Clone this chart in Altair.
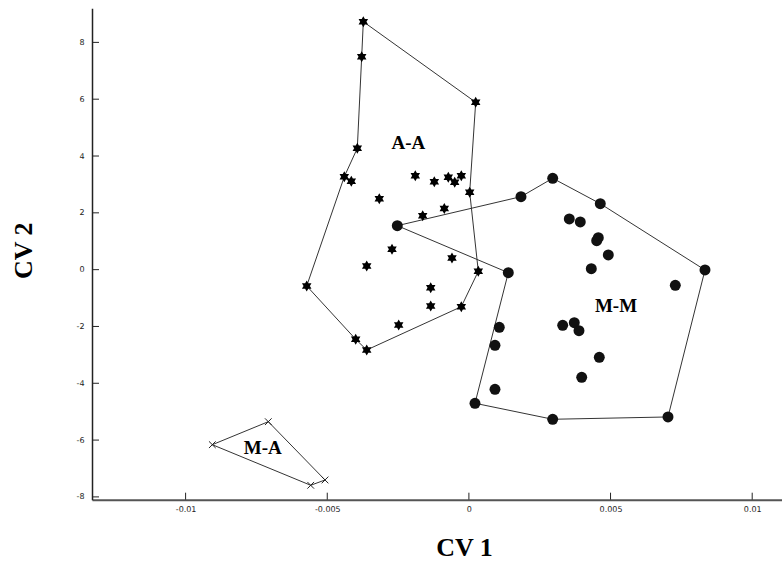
import altair as alt
import pandas as pd

# Canonical variate scores, group A-A (stars)
AA_X = [-0.003727, -0.003784, 0.000240, -0.003939, -0.004398, -0.004151, -0.001892,
        -0.001221, -0.000727, -0.000501, -0.000268, 0.000028, -0.003163, -0.000868,
        -0.001631, -0.002714, -0.000597, -0.003607, 0.000332, -0.005725, -0.001348,
        -0.001348, -0.000268, -0.002478, -0.003996, -0.003607]
AA_Y = [8.729, 7.497, 5.892, 4.273, 3.273, 3.111, 3.308, 3.097, 3.252, 3.076, 3.308,
        2.724, 2.498, 2.153, 1.900, 0.717, 0.411, 0.129, -0.057, -0.575, -0.635,
        -1.279, -1.304, -1.948, -2.451, -2.828]
AA_HULL = [0, 2, 11, 18, 22, 25, 24, 19, 4, 3, 1]

# Group M-M (filled circles)
MM_X = [-0.002527, 0.001839, 0.002958, 0.004638, 0.003544, 0.003932, 0.004568,
        0.004511, 0.004921, 0.004321, 0.008334, 0.001391, 0.007286, 0.001073,
        0.003311, 0.003720, 0.003886, 0.000921, 0.004603, 0.003982, 0.000921,
        0.000215, 0.002958, 0.007028]
MM_Y = [1.548, 2.569, 3.216, 2.322, 1.784, 1.678, 1.125, 1.020, 0.516, 0.034, -0.012,
        -0.107, -0.550, -2.029, -1.958, -1.867, -2.148, -2.662, -3.085, -3.789,
        -4.211, -4.704, -5.267, -5.186]
MM_HULL = [0, 1, 2, 3, 10, 23, 22, 21, 11]

# Group M-A (crosses)
MA_X = [-0.009057, -0.007081, -0.005079, -0.005584]
MA_Y = [-6.162, -5.352, -7.404, -7.591]
MA_HULL = [0, 1, 2, 3]

# Group names and where they are written
LABELS = ["A-A", "M-M", "M-A"]
LABEL_X = [-0.002139, 0.005192, -0.007279]
LABEL_Y = [4.449, -1.279, -6.267]

X_TICKS = [-0.01, -0.005, 0, 0.005, 0.01]
Y_TICKS = [-8, -6, -4, -2, 0, 2, 4, 6, 8]

W, H = 690, 491.4
X_DOMAIN = [-0.013304, 0.011052]
Y_DOMAIN = [-8.098, 9.2]

STAR = "M0,-1L0.866,0.5L-0.866,0.5Z M0,1L-0.866,-0.5L0.866,-0.5Z"
XMARK = "M-1,-1L1,1M-1,1L1,-1"


def hull_rows(name, xs, ys, order):
    idx = order + [order[0]]
    return [{"x": xs[i], "y": ys[i], "group": name, "ord": k} for k, i in enumerate(idx)]


hull = pd.DataFrame(hull_rows("A-A", AA_X, AA_Y, AA_HULL)
                    + hull_rows("M-M", MM_X, MM_Y, MM_HULL)
                    + hull_rows("M-A", MA_X, MA_Y, MA_HULL))
aa = pd.DataFrame({"x": AA_X, "y": AA_Y})
mm = pd.DataFrame({"x": MM_X, "y": MM_Y})
ma = pd.DataFrame({"x": MA_X, "y": MA_Y})
labels = pd.DataFrame({"x": LABEL_X, "y": LABEL_Y, "name": LABELS})
xt = pd.DataFrame({"x": X_TICKS})
yt = pd.DataFrame({"y": Y_TICKS})

x_axis = alt.Axis(
    values=X_TICKS, labelExpr="datum.value + ''", ticks=False, grid=False,
    domainColor="#555555", domainWidth=2, labelFont="DejaVu Sans", labelFontSize=8,
    labelColor="#222222", labelPadding=6, labelFlush=False,
    title="CV 1", titleFont="Liberation Serif", titleFontSize=26, titleFontWeight="bold",
    titleColor="black", titleX=372, titleY=48, titleAlign="center", titleBaseline="middle",
)
y_axis = alt.Axis(
    values=Y_TICKS, labelExpr="datum.value + ''", ticks=False, grid=False,
    domainColor="#222222", domainWidth=1.5, labelFont="DejaVu Sans", labelFontSize=8,
    labelColor="#222222", labelPadding=8, labelFlush=False,
    title="CV 2", titleFont="Liberation Serif", titleFontSize=26, titleFontWeight="bold",
    titleColor="black", titleX=-69, titleY=242, titleAngle=270, titleAlign="center",
    titleBaseline="middle",
)

X = alt.X("x:Q", scale=alt.Scale(domain=X_DOMAIN, nice=False, zero=False), axis=x_axis)
Y = alt.Y("y:Q", scale=alt.Scale(domain=Y_DOMAIN, nice=False, zero=False), axis=y_axis)

hull_lines = alt.Chart(hull).mark_line(color="#333333", strokeWidth=1).encode(
    x=X, y=Y, detail="group:N", order="ord:Q")

stars = alt.Chart(aa).mark_point(shape=STAR, filled=True, size=120, color="black",
                                 opacity=1).encode(x=X, y=Y)
circles = alt.Chart(mm).mark_point(shape="circle", filled=True, size=120, color="#111111",
                                   opacity=1).encode(x=X, y=Y)
crosses = alt.Chart(ma).mark_point(shape=XMARK, filled=False, size=45, color="#222222",
                                   strokeWidth=1, opacity=1).encode(x=X, y=Y)

names = alt.Chart(labels).mark_text(font="Liberation Serif", fontWeight="bold", fontSize=19,
                                    color="black").encode(x=X, y=Y, text="name:N")

x_ticks = alt.Chart(xt).mark_rule(color="#222222", strokeWidth=1).encode(
    x=X, y=alt.value(H), y2=alt.value(H - 7))
y_ticks = alt.Chart(yt).mark_rule(color="#222222", strokeWidth=1).encode(
    y=Y, x=alt.value(0), x2=alt.value(7))

chart = alt.layer(hull_lines, x_ticks, y_ticks, stars, circles, crosses, names).properties(
    width=W, height=H,
    padding={"left": 92, "top": 8.3, "right": 0, "bottom": 63},
    autosize=alt.AutoSizeParams(type="none"),
    background="white",
).configure_view(stroke=None)

chart.save("out.html", embed_options={"renderer": "svg", "actions": False})
